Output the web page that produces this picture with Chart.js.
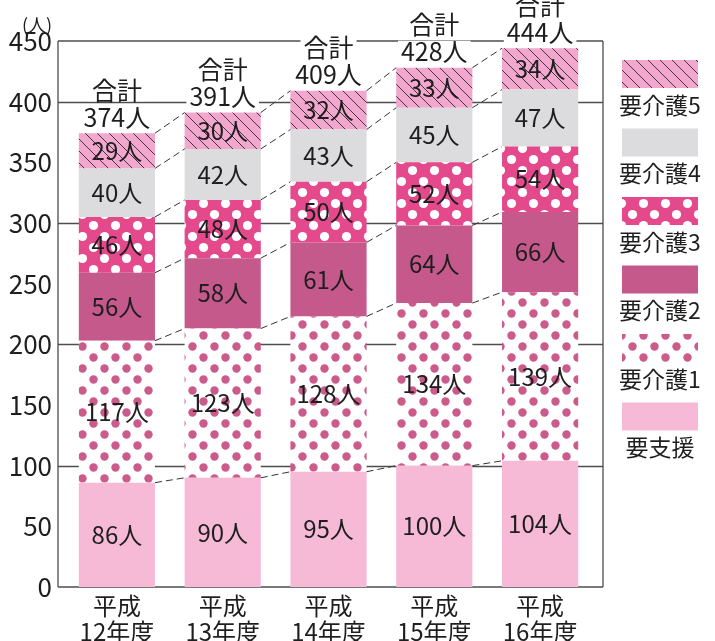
<!DOCTYPE html>
<html>
<head>
<meta charset="utf-8">
<script src="https://cdn.jsdelivr.net/npm/chart.js@4.4.1/dist/chart.umd.min.js"></script>
<style>
  html, body { margin: 0; padding: 0; background: #fff; }
</style>
</head>
<body>
<canvas id="chart" width="715" height="641"></canvas>
<script>
// data
const years = [['平成', '12年度'], ['平成', '13年度'], ['平成', '14年度'], ['平成', '15年度'], ['平成', '16年度']];
const levels = ['要支援', '要介護1', '要介護2', '要介護3', '要介護4', '要介護5'];
const shien = [86, 90, 95, 100, 104];
const kaigo1 = [117, 123, 128, 134, 139];
const kaigo2 = [56, 58, 61, 64, 66];
const kaigo3 = [46, 48, 50, 52, 54];
const kaigo4 = [40, 42, 43, 45, 47];
const kaigo5 = [29, 30, 32, 33, 34];
const totals = [374, 391, 409, 428, 444];
const yTicks = [0, 50, 100, 150, 200, 250, 300, 350, 400, 450];
const gridValues = [100, 200, 300, 400];

const FONT = '"Noto Sans CJK JP", "Noto Sans", sans-serif';

function makePattern(size, draw) {
  const c = document.createElement('canvas');
  c.width = size; c.height = size;
  const p = c.getContext('2d');
  draw(p, size);
  return document.getElementById('chart').getContext('2d').createPattern(c, 'repeat');
}

function dots(bg, fg, r) {
  return makePattern(22, (p, s) => {
    p.fillStyle = bg; p.fillRect(0, 0, s, s);
    p.fillStyle = fg;
    [[5.5, 5.5], [16.5, 16.5]].forEach(([x, y]) => {
      p.beginPath(); p.arc(x, y, r, 0, Math.PI * 2); p.fill();
    });
  });
}

const hatch = makePattern(12, (p, s) => {
  p.fillStyle = '#f3a7cf'; p.fillRect(0, 0, s, s);
  p.strokeStyle = '#3a3a3a'; p.lineWidth = 1;
  p.beginPath();
  p.moveTo(0, 0); p.lineTo(s, s);
  p.moveTo(-s / 2, s / 2); p.lineTo(s / 2, s * 1.5);
  p.moveTo(s / 2, -s / 2); p.lineTo(s * 1.5, s / 2);
  p.stroke();
});

const fills = [
  '#f6bad7',
  dots('#ffffff', '#cb5b8b', 4.2),
  '#c6598c',
  dots('#e3498b', '#ffffff', 4.6),
  '#dcdcdf',
  hatch
];
const values = [shien, kaigo1, kaigo2, kaigo3, kaigo4, kaigo5];

const decor = {
  id: 'decor',
  beforeDatasetsDraw(chart) {
    const { ctx, chartArea: a, scales: { y } } = chart;
    const L = 58, R = 603;
    ctx.save();
    ctx.strokeStyle = '#4d4d4d';
    ctx.lineWidth = 1.3;
    ctx.beginPath();
    const top = y.getPixelForValue(450), bot = y.getPixelForValue(0);
    ctx.moveTo(L, top); ctx.lineTo(R, top);
    ctx.moveTo(L, top); ctx.lineTo(L, bot);
    ctx.moveTo(R, top); ctx.lineTo(R, bot);
    ctx.moveTo(L, bot); ctx.lineTo(R, bot);
    gridValues.forEach(v => {
      const py = Math.round(y.getPixelForValue(v)) + 0.5;
      ctx.moveTo(L, py); ctx.lineTo(R, py);
    });
    ctx.stroke();
    ctx.restore();
  },
  afterDatasetsDraw(chart) {
    const { ctx, scales: { y } } = chart;
    ctx.save();

    // dashed connectors between bars
    ctx.strokeStyle = '#333';
    ctx.lineWidth = 1;
    ctx.setLineDash([7, 4]);
    ctx.beginPath();
    chart.data.datasets.forEach((ds, d) => {
      const bars = chart.getDatasetMeta(d).data;
      for (let i = 0; i < bars.length - 1; i++) {
        const a = bars[i], b = bars[i + 1];
        ctx.moveTo(a.x + a.width / 2, a.y);
        ctx.lineTo(b.x - b.width / 2, b.y);
      }
    });
    ctx.stroke();
    ctx.setLineDash([]);

    // segment values
    ctx.fillStyle = '#1e1e1e';
    ctx.font = '24px ' + FONT;
    ctx.textAlign = 'center';
    ctx.textBaseline = 'middle';
    chart.data.datasets.forEach((ds, d) => {
      chart.getDatasetMeta(d).data.forEach((bar, i) => {
        ctx.fillText(ds.data[i] + '人', bar.x, (bar.y + bar.base) / 2);
      });
    });

    // totals with white knockout
    ctx.font = '25px ' + FONT;
    const firstMeta = chart.getDatasetMeta(0).data;
    totals.forEach((t, i) => {
      const x = firstMeta[i].x;
      const py = y.getPixelForValue(t);
      const lines = [['合計', py - 43], [t + '人', py - 16]];
      lines.forEach(([txt, cy]) => {
        const w = ctx.measureText(txt).width;
        ctx.fillStyle = '#fff';
        ctx.fillRect(x - w / 2 - 3, cy - 11, w + 6, 22);
      });
      ctx.fillStyle = '#1e1e1e';
      lines.forEach(([txt, cy]) => ctx.fillText(txt, x, cy));
    });

    // unit label
    ctx.font = '18px ' + FONT;
    ctx.fillText('(人)', 37, 25);

    // legend, top to bottom from 要介護5
    ctx.font = '23px ' + FONT;
    for (let k = 0; k < levels.length; k++) {
      const idx = levels.length - 1 - k;
      const top = 60 + k * 68.5;
      ctx.fillStyle = fills[idx];
      ctx.fillRect(622, top, 76, 28);
      ctx.fillStyle = '#1e1e1e';
      ctx.fillText(levels[idx], 660, top + 45);
    }
    ctx.restore();
  }
};

new Chart(document.getElementById('chart'), {
  type: 'bar',
  data: {
    labels: years,
    datasets: levels.map((name, i) => ({
      label: name,
      data: values[i],
      backgroundColor: fills[i],
      borderWidth: 0,
      categoryPercentage: 1,
      barPercentage: 0.72
    }))
  },
  options: {
    responsive: false,
    animation: false,
    devicePixelRatio: 1,
    layout: { padding: { left: 0, right: 122, top: 41, bottom: 0 } },
    plugins: { legend: { display: false }, tooltip: { enabled: false } },
    scales: {
      x: {
        stacked: true,
        grid: { display: false, drawTicks: false },
        border: { display: false },
        ticks: {
          color: '#1e1e1e',
          padding: 5,
          font: { family: FONT, size: 24, lineHeight: 1.12 }
        },
        afterFit(scale) { scale.height = 54; }
      },
      y: {
        stacked: true,
        min: 0,
        max: 450,
        grid: { display: false, drawTicks: false },
        border: { display: false },
        afterBuildTicks(scale) { scale.ticks = yTicks.map(v => ({ value: v })); },
        ticks: {
          color: '#1e1e1e',
          padding: 12,
          font: { family: FONT, size: 26 }
        },
        afterFit(scale) { scale.width = 64; }
      }
    }
  },
  plugins: [decor]
});
</script>
</body>
</html>
